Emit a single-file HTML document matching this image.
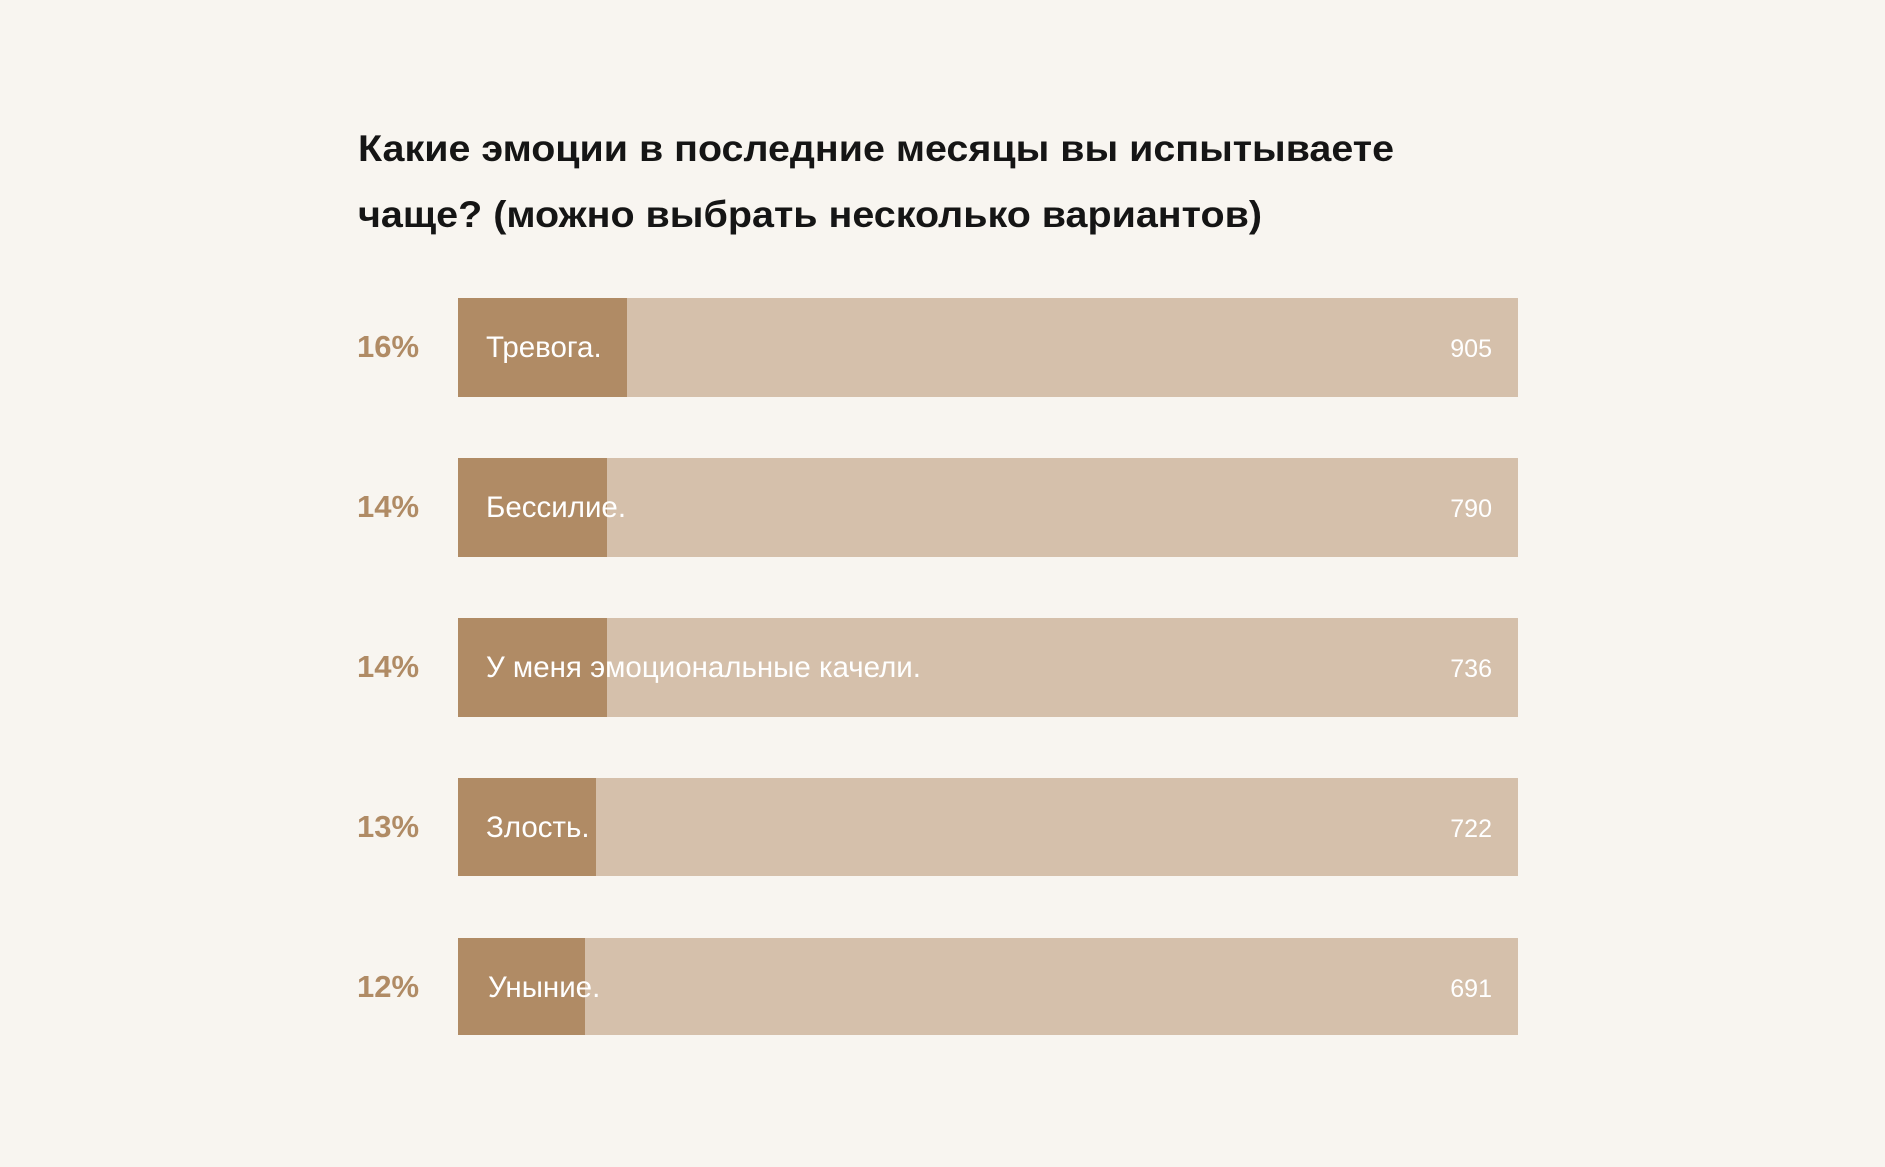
<!DOCTYPE html>
<html><head><meta charset="utf-8"><style>
html,body{margin:0;padding:0;background:#f8f5f0;}
svg{display:block}
</style></head><body>
<svg width="1885" height="1167" xmlns="http://www.w3.org/2000/svg" font-family="Liberation Sans, sans-serif">
<rect width="1885" height="1167" fill="#f8f5f0"/>
<text x="358" y="161" font-size="37" font-weight="bold" fill="#151515" textLength="1036" lengthAdjust="spacingAndGlyphs">Какие эмоции в последние месяцы вы испытываете</text>
<text x="358" y="227" font-size="37" font-weight="bold" fill="#151515" textLength="904" lengthAdjust="spacingAndGlyphs">чаще? (можно выбрать несколько вариантов)</text>
<g font-size="29.5">
<rect x="458" y="298" width="1060" height="99" fill="#d5c0ab"/>
<rect x="458" y="298" width="169" height="99" fill="#b08b65"/>
<text x="357" y="357" font-weight="bold" fill="#b08b65" font-size="31">16%</text>
<text x="486" y="357" fill="#fff">Тревога.</text>
<text x="1492" y="357" fill="#fff" text-anchor="end" font-size="25">905</text>

<rect x="458" y="458" width="1060" height="99" fill="#d5c0ab"/>
<rect x="458" y="458" width="149" height="99" fill="#b08b65"/>
<text x="357" y="517" font-weight="bold" fill="#b08b65" font-size="31">14%</text>
<text x="486" y="517" fill="#fff">Бессилие.</text>
<text x="1492" y="517" fill="#fff" text-anchor="end" font-size="25">790</text>

<rect x="458" y="618" width="1060" height="99" fill="#d5c0ab"/>
<rect x="458" y="618" width="149" height="99" fill="#b08b65"/>
<text x="357" y="677" font-weight="bold" fill="#b08b65" font-size="31">14%</text>
<text x="486" y="677" fill="#fff">У меня эмоциональные качели.</text>
<text x="1492" y="677" fill="#fff" text-anchor="end" font-size="25">736</text>

<rect x="458" y="778" width="1060" height="98" fill="#d5c0ab"/>
<rect x="458" y="778" width="138" height="98" fill="#b08b65"/>
<text x="357" y="837" font-weight="bold" fill="#b08b65" font-size="31">13%</text>
<text x="486" y="837" fill="#fff">Злость.</text>
<text x="1492" y="837" fill="#fff" text-anchor="end" font-size="25">722</text>

<rect x="458" y="938" width="1060" height="97" fill="#d5c0ab"/>
<rect x="458" y="938" width="127" height="97" fill="#b08b65"/>
<text x="357" y="997" font-weight="bold" fill="#b08b65" font-size="31">12%</text>
<text x="488" y="997" fill="#fff">Уныние.</text>
<text x="1492" y="997" fill="#fff" text-anchor="end" font-size="25">691</text>
</g>
</svg>
</body></html>
